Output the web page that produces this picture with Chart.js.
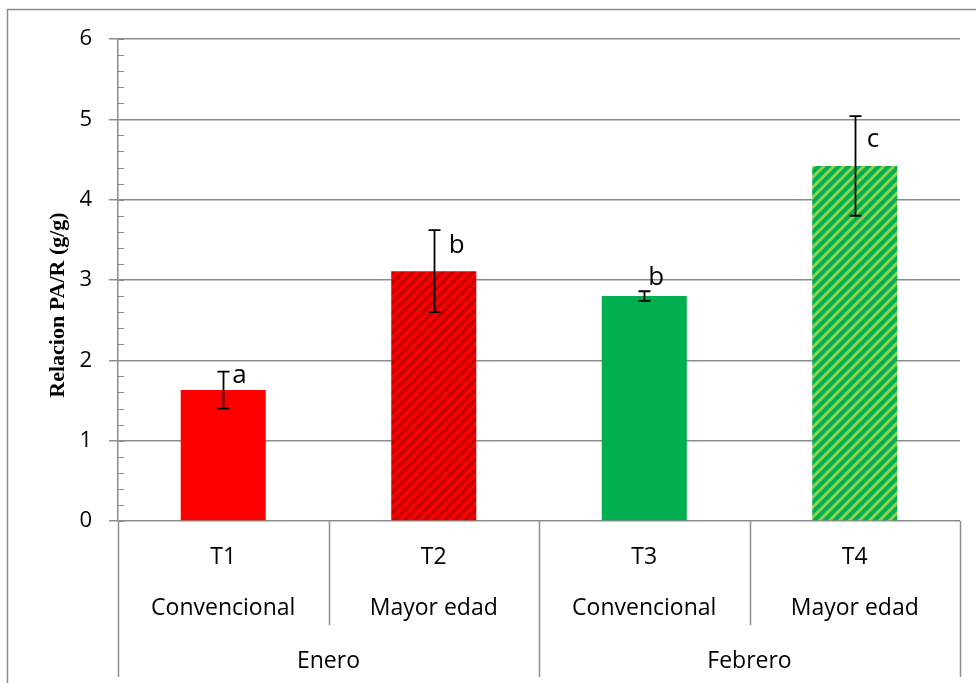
<!DOCTYPE html>
<html>
<head>
<meta charset="utf-8">
<script src="https://cdn.jsdelivr.net/npm/chart.js@4/dist/chart.umd.min.js"></script>
<style>
html,body{margin:0;padding:0;background:#fff;}
#wrap{width:976px;height:683px;position:relative;}
</style>
</head>
<body>
<div id="wrap"><canvas id="c" width="976" height="683"></canvas></div>
<script>
// ---- data ----
const categories = ['T1', 'T2', 'T3', 'T4'];
const subLabels = ['Convencional', 'Mayor edad', 'Convencional', 'Mayor edad'];
const groups = ['Enero', 'Febrero'];
const groupSizes = [2, 2];
const values = [1.63, 3.11, 2.80, 4.42];
const errors = [0.23, 0.51, 0.06, 0.62];
const letters = ['a', 'b', 'b', 'c'];
const letterBaseline = [1.72, 3.34, 2.94, 4.66];
const yTitle = 'Relacion PA/R (g/g)';
const yMin = 0, yMax = 6, yStep = 1, yMinorStep = 0.2;

// ---- styles ----
const SANS = '"Open Sans", "Noto Sans", sans-serif';
const GRID = '#8c8c8c';
const letterDx = [9, 15, 4, 12];

function hatch(bg, fg, w) {
  const s = 10;
  const c = document.createElement('canvas');
  c.width = s; c.height = s;
  const g = c.getContext('2d');
  g.fillStyle = bg; g.fillRect(0, 0, s, s);
  g.strokeStyle = fg; g.lineWidth = w;
  for (const k of [-s, 0, s]) {
    g.beginPath(); g.moveTo(k - 2, s + 2); g.lineTo(k + s + 2, -2); g.stroke();
  }
  return g.createPattern(c, 'repeat');
}
const barFills = [
  '#ff0000',
  hatch('#c80000', '#ff0000', 3.4),
  '#00b050',
  hatch('#00b050', '#92d050', 3.0)
];

const framePlugin = {
  id: 'frame',
  beforeDraw(chart) {
    const ctx = chart.ctx;
    ctx.save();
    ctx.strokeStyle = GRID; ctx.lineWidth = 1.5;
    ctx.beginPath();
    ctx.moveTo(7.5, 700); ctx.lineTo(7.5, 9.5); ctx.lineTo(990, 9.5);
    ctx.stroke();
    ctx.restore();
  }
};

const decorPlugin = {
  id: 'decor',
  afterDraw(chart) {
    const ctx = chart.ctx;
    const xs = chart.scales.x, ys = chart.scales.y;
    const area = chart.chartArea;
    ctx.save();
    // minor ticks (inside)
    ctx.strokeStyle = GRID; ctx.lineWidth = 1;
    const nMinor = Math.round((yMax - yMin) / yMinorStep);
    for (let i = 0; i <= nMinor; i++) {
      const v = yMin + i * yMinorStep;
      const y = Math.round(ys.getPixelForValue(v)) + 0.5;
      ctx.beginPath(); ctx.moveTo(area.left, y); ctx.lineTo(area.left + 6, y); ctx.stroke();
    }
    // category dividers
    const catW = (area.right - area.left) / categories.length;
    ctx.lineWidth = 1.5;
    let boundaries = new Set([0]);
    let acc = 0;
    groupSizes.forEach(n => { acc += n; boundaries.add(acc); });
    for (let i = 0; i <= categories.length; i++) {
      const x = Math.round(area.left + i * catW) + 0.5;
      const bottom = boundaries.has(i) ? 677 : 625;
      ctx.beginPath(); ctx.moveTo(x, area.bottom); ctx.lineTo(x, bottom); ctx.stroke();
    }
    // category labels
    ctx.fillStyle = '#000';
    ctx.font = '23px ' + SANS;
    ctx.textAlign = 'center'; ctx.textBaseline = 'middle';
    categories.forEach((c, i) => {
      const x = xs.getPixelForValue(i);
      ctx.fillText(c, x, 557);
      ctx.fillText(subLabels[i], x, 608);
    });
    let start = 0;
    groups.forEach((g, gi) => {
      const n = groupSizes[gi];
      const x = area.left + (start + n / 2) * catW;
      ctx.fillText(g, x, 661);
      start += n;
    });
    // y title
    ctx.save();
    ctx.translate(58, 305);
    ctx.rotate(-Math.PI / 2);
    ctx.font = 'bold 22px "Liberation Serif", "Times New Roman", serif';
    ctx.fillText(yTitle, 0, 0);
    ctx.restore();
    ctx.restore();
  },
  afterDatasetsDraw(chart) {
    const ctx = chart.ctx;
    const xs = chart.scales.x, ys = chart.scales.y;
    ctx.save();
    ctx.strokeStyle = '#000'; ctx.lineWidth = 1.8;
    values.forEach((v, i) => {
      const x = Math.round(xs.getPixelForValue(i)) + 0.5;
      const yt = ys.getPixelForValue(v + errors[i]);
      const yb = ys.getPixelForValue(v - errors[i]);
      ctx.beginPath();
      ctx.moveTo(x, yt); ctx.lineTo(x, yb);
      ctx.moveTo(x - 6, yt); ctx.lineTo(x + 6, yt);
      ctx.moveTo(x - 6, yb); ctx.lineTo(x + 6, yb);
      ctx.stroke();
    });
    ctx.fillStyle = '#000';
    ctx.font = '26px ' + SANS;
    ctx.textAlign = 'left'; ctx.textBaseline = 'alphabetic';
    letters.forEach((l, i) => {
      const x = xs.getPixelForValue(i) + letterDx[i];
      const y = ys.getPixelForValue(letterBaseline[i]);
      ctx.fillText(l, x, y);
    });
    ctx.restore();
  }
};

new Chart(document.getElementById('c'), {
  type: 'bar',
  data: {
    labels: categories,
    datasets: [{
      data: values,
      backgroundColor: barFills,
      borderWidth: 0,
      categoryPercentage: 1,
      barPercentage: 0.404
    }]
  },
  options: {
    responsive: false,
    animation: false,
    devicePixelRatio: 1,
    layout: { padding: { left: 0, top: 39, right: 16, bottom: 0 } },
    plugins: { legend: { display: false }, tooltip: { enabled: false } },
    scales: {
      x: {
        ticks: { display: false },
        grid: { display: false },
        border: { display: false },
        afterFit: s => { s.height = 162; }
      },
      y: {
        min: yMin, max: yMax,
        ticks: { stepSize: yStep, color: '#000', font: { family: SANS, size: 22 }, padding: 17 },
        grid: { color: GRID, lineWidth: 1.5, tickLength: 9, drawTicks: true },
        border: { display: true, color: GRID, width: 1.5 },
        afterFit: s => { s.width = 118; }
      }
    }
  },
  plugins: [framePlugin, decorPlugin]
});
</script>
</body>
</html>
